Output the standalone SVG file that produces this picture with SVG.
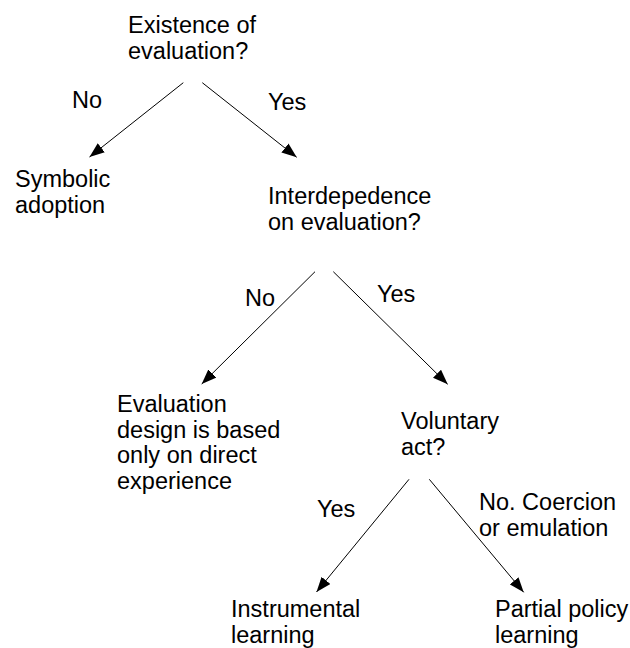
<svg xmlns="http://www.w3.org/2000/svg" width="630" height="648" viewBox="0 0 630 648">
<style>
text{font-family:"Liberation Sans",Arial,sans-serif;font-size:23.5px;fill:#000}
.e{stroke:#000;stroke-width:1;fill:none}
</style>
<defs>
<marker id="ah" markerUnits="userSpaceOnUse" markerWidth="16" markerHeight="12" viewBox="0 -6 16 12" refX="15" refY="0" orient="auto">
<path d="M0,-5.7 L15,0 L0,5.7 z" fill="#000"/>
</marker>
</defs>
<rect width="630" height="648" fill="#fff"/>
<g id="connectors">
<line class="e" x1="183.3" y1="82.7" x2="89.5" y2="157" marker-end="url(#ah)"/>
<line class="e" x1="202.3" y1="82.7" x2="296.7" y2="157.3" marker-end="url(#ah)"/>
<line class="e" x1="315" y1="271.7" x2="201.7" y2="384" marker-end="url(#ah)"/>
<line class="e" x1="333.3" y1="271.7" x2="447.7" y2="384.3" marker-end="url(#ah)"/>
<line class="e" x1="409" y1="479.3" x2="316.5" y2="592" marker-end="url(#ah)"/>
<line class="e" x1="429.3" y1="479.3" x2="523.7" y2="592.3" marker-end="url(#ah)"/>
<text x="72" y="108">No</text>
<text x="268" y="110">Yes</text>
<text x="245" y="306">No</text>
<text x="377" y="302">Yes</text>
<text x="317" y="517">Yes</text>
<text x="479" y="510">No. Coercion</text>
<text x="479" y="536">or emulation</text>
</g>
<g id="n1"><text x="128" y="33">Existence of</text><text x="128" y="59">evaluation?</text></g>
<g id="n2"><text x="15" y="187">Symbolic</text><text x="15" y="213">adoption</text></g>
<g id="n3"><text x="268" y="204">Interdepedence</text><text x="268" y="230">on evaluation?</text></g>
<g id="n4"><text x="117" y="412">Evaluation</text><text x="117" y="438">design is based</text><text x="117" y="463">only on direct</text><text x="117" y="489">experience</text></g>
<g id="n5"><text x="401" y="429">Voluntary</text><text x="401" y="455">act?</text></g>
<g id="n6"><text x="231" y="617">Instrumental</text><text x="231" y="643">learning</text></g>
<g id="n7"><text x="495" y="617">Partial policy</text><text x="495" y="643">learning</text></g>
</svg>
